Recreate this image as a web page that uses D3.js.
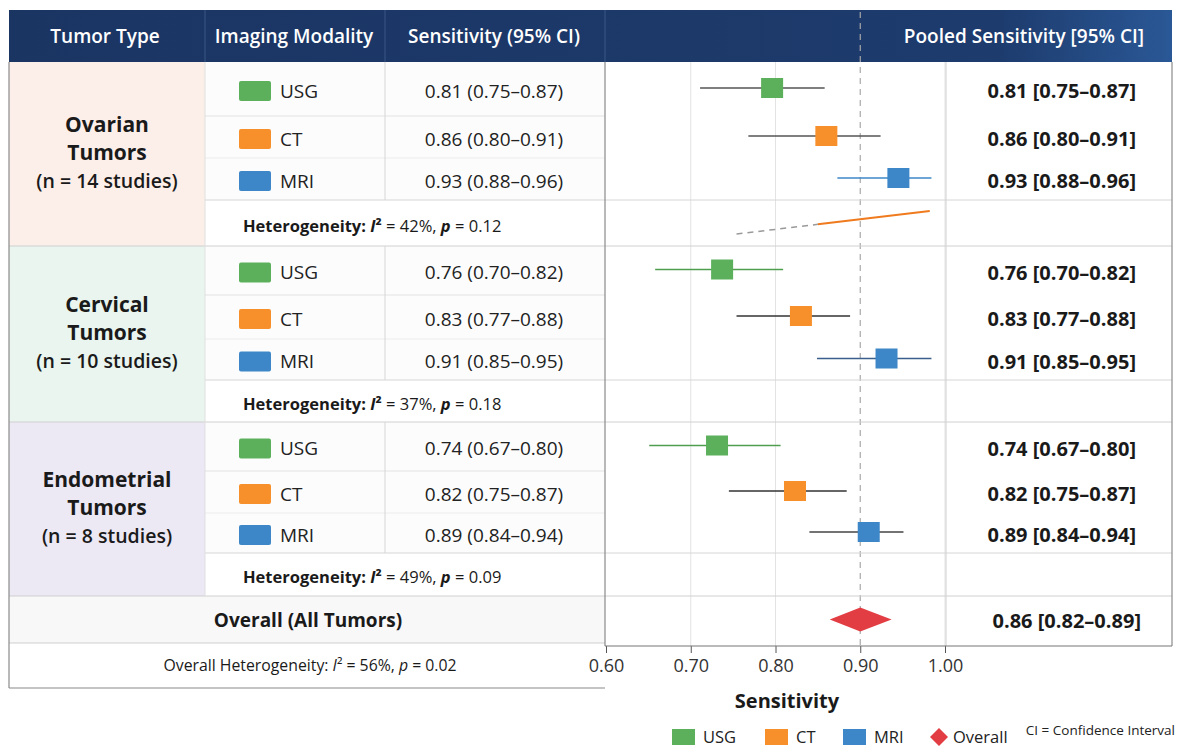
<!DOCTYPE html>
<html><head><meta charset="utf-8">
<script src="https://cdn.jsdelivr.net/npm/d3@7"></script>
<style>
body{margin:0;background:#fff;}
text{font-family:"Open Sans","Noto Sans",sans-serif;}
</style>
</head><body>
<svg id="chart" width="1178" height="747"></svg>
<script>
// ---------------- data ----------------
const tumorTypes = ["Ovarian", "Cervical", "Endometrial"];
const studyCounts = [14, 10, 8];
const modalities = ["USG", "CT", "MRI"];
// reported sensitivities (table text)
const sensEst = [[0.81, 0.86, 0.93], [0.76, 0.83, 0.91], [0.74, 0.82, 0.89]];
const sensLo  = [[0.75, 0.80, 0.88], [0.70, 0.77, 0.85], [0.67, 0.75, 0.84]];
const sensHi  = [[0.87, 0.91, 0.96], [0.82, 0.88, 0.95], [0.80, 0.87, 0.94]];
// positions of the plotted markers / whiskers as drawn in the figure
const markEst = [[0.796, 0.860, 0.945], [0.737, 0.830, 0.931], [0.731, 0.823, 0.910]];
const markLo  = [[0.711, 0.768, 0.873], [0.658, 0.754, 0.849], [0.651, 0.745, 0.840]];
const markHi  = [[0.858, 0.924, 0.984], [0.809, 0.888, 0.984], [0.806, 0.884, 0.951]];
const hetI2 = [42, 37, 49];
const hetP = [0.12, 0.18, 0.09];
const overallSens = [0.86, 0.82, 0.89];      // est, lo, hi (text)
const overallMark = [0.900, 0.864, 0.937];   // diamond as drawn
const overallI2 = 56;
const overallP = 0.02;
const axisTicks = [0.60, 0.70, 0.80, 0.90, 1.00];
const refValue = 0.90;
// stray trend stroke in the ovarian heterogeneity row
const trendX = [0.754, 0.850, 0.982];
const legendItems = ["USG", "CT", "MRI", "Overall"];

// ---------------- styles ----------------
const modColor = {USG: "#5cb05c", CT: "#f7902a", MRI: "#3d87c8"};
const whiskerColor = [["#555", "#555", "#3d87c8"], ["#4f9e4f", "#333", "#3a5f8c"], ["#4f9e4f", "#333", "#444"]];
const groupFill = ["#fcefea", "#e9f5ee", "#ece8f4"];
const groupEdges = [[62, 116, 158, 200, 246], [246, 295, 339, 380, 422], [422, 471, 513, 553, 596]];
const f2 = d3.format(".2f");

const svg = d3.select("#chart");
const x = d3.scaleLinear().domain([0.6, 1.0]).range([606, 945]);

const L = 9, R = 1172, HT = 10, HB = 62;
const colMod = 205, colSens = 385, colPlot = 605, colPool = 946;
const overallTop = 596, overallBot = 643, tableBot = 688, axisY = 646;

// header gradient
const defs = svg.append("defs");
const g1 = defs.append("linearGradient").attr("id", "hdr").attr("x1", "0").attr("x2", "1");
g1.append("stop").attr("offset", "0").attr("stop-color", "#1b3563");
g1.append("stop").attr("offset", "0.85").attr("stop-color", "#1d3b6d");
g1.append("stop").attr("offset", "1").attr("stop-color", "#2a5896");

// ---------------- backgrounds ----------------
tumorTypes.forEach((t, i) => {
  const e = groupEdges[i];
  svg.append("rect").attr("x", L).attr("y", e[0]).attr("width", colMod - L).attr("height", e[4] - e[0]).attr("fill", groupFill[i]);
  svg.append("rect").attr("x", colMod).attr("y", e[0]).attr("width", colPlot - colMod).attr("height", e[3] - e[0]).attr("fill", "#fcfcfc");
});
svg.append("rect").attr("x", L).attr("y", overallTop).attr("width", colPlot - L).attr("height", overallBot - overallTop).attr("fill", "#f8f8f8");

// header
svg.append("rect").attr("x", L).attr("y", HT).attr("width", R - L).attr("height", HB - HT).attr("fill", "url(#hdr)");
[colMod, colSens, colPlot].forEach(cx => svg.append("line").attr("x1", cx).attr("x2", cx).attr("y1", HT).attr("y2", HB).attr("stroke", "#3b5786").attr("stroke-width", 1));
const hdrText = [["Tumor Type", 105, "middle"], ["Imaging Modality", 294, "middle"], ["Sensitivity (95% CI)", 494, "middle"], ["Pooled Sensitivity [95% CI]", 1144, "end"]];
hdrText.forEach(h => svg.append("text").attr("x", h[1]).attr("y", 36).attr("dy", "0.35em").attr("text-anchor", h[2])
  .attr("fill", "#fff").attr("font-size", 19).attr("font-weight", 600).text(h[0]));

// ---------------- grid lines in plot ----------------
axisTicks.filter(v => v !== refValue && v > 0.6).forEach(v => {
  svg.append("line").attr("x1", x(v)).attr("x2", x(v)).attr("y1", HB).attr("y2", axisY).attr("stroke", "#e3e3e3").attr("stroke-width", 1);
});
svg.append("line").attr("x1", x(refValue)).attr("x2", x(refValue)).attr("y1", HT + 2).attr("y2", axisY)
  .attr("stroke", "#a8a8a8").attr("stroke-width", 1.2).attr("stroke-dasharray", "6,5");

// ---------------- row separators ----------------
const sep = (x1, x2, y, c) => svg.append("line").attr("x1", x1).attr("x2", x2).attr("y1", y).attr("y2", y).attr("stroke", c || "#d9d9d9").attr("stroke-width", 1);
tumorTypes.forEach((t, i) => {
  const e = groupEdges[i];
  sep(colMod, colPlot, e[1], "#e2e2e2");
  sep(colMod, colPlot, e[2], "#ececec");
  sep(colMod, R, e[3], "#d6d6d6");
  sep(L, R, e[4], "#d0d0d0");
  svg.append("line").attr("x1", colSens).attr("x2", colSens).attr("y1", e[0]).attr("y2", e[3]).attr("stroke", "#d6d6d6");
  svg.append("line").attr("x1", colMod).attr("x2", colMod).attr("y1", e[0]).attr("y2", e[4]).attr("stroke", "#e0e0e0");
});
sep(L, colPlot, overallBot, "#cfcfcf");
// borders
svg.append("line").attr("x1", L).attr("x2", L).attr("y1", HB).attr("y2", tableBot).attr("stroke", "#8a8a8a").attr("stroke-width", 1.2);
svg.append("line").attr("x1", L).attr("x2", colPlot).attr("y1", tableBot).attr("y2", tableBot).attr("stroke", "#8a8a8a").attr("stroke-width", 1.2);
svg.append("line").attr("x1", colPlot).attr("x2", colPlot).attr("y1", HB).attr("y2", axisY).attr("stroke", "#8a8a8a").attr("stroke-width", 1.2);
svg.append("line").attr("x1", R).attr("x2", R).attr("y1", HB).attr("y2", axisY).attr("stroke", "#8a8a8a").attr("stroke-width", 1.2);
svg.append("line").attr("x1", colPool).attr("x2", colPool).attr("y1", HB).attr("y2", axisY).attr("stroke", "#d0d0d0");

// ---------------- group labels ----------------
tumorTypes.forEach((t, i) => {
  const e = groupEdges[i];
  const cy = (e[0] + e[4]) / 2;
  const lbl = svg.append("g");
  lbl.append("text").attr("x", 107).attr("y", cy - 29).attr("dy", "0.35em").attr("text-anchor", "middle")
    .attr("font-size", 21).attr("font-weight", 700).attr("fill", "#1a1a1a").text(t);
  lbl.append("text").attr("x", 107).attr("y", cy - 1).attr("dy", "0.35em").attr("text-anchor", "middle")
    .attr("font-size", 21).attr("font-weight", 700).attr("fill", "#1a1a1a").text("Tumors");
  lbl.append("text").attr("x", 107).attr("y", cy + 27).attr("dy", "0.35em").attr("text-anchor", "middle")
    .attr("font-size", 19.5).attr("font-weight", 600).attr("fill", "#1a1a1a").text(`(n = ${studyCounts[i]} studies)`);
});

// ---------------- modality rows ----------------
tumorTypes.forEach((t, i) => {
  const e = groupEdges[i];
  modalities.forEach((m, j) => {
    const cy = (e[j] + e[j + 1]) / 2 + 2;
    svg.append("rect").attr("x", 239).attr("y", cy - 10).attr("width", 32).attr("height", 20).attr("rx", 2).attr("fill", modColor[m]);
    svg.append("text").attr("x", 280).attr("y", cy).attr("dy", "0.35em").attr("font-size", 19).attr("fill", "#222").text(m);
    svg.append("text").attr("x", 494).attr("y", cy).attr("dy", "0.35em").attr("text-anchor", "middle").attr("font-size", 19).attr("fill", "#222")
      .text(`${f2(sensEst[i][j])} (${f2(sensLo[i][j])}–${f2(sensHi[i][j])})`);
    // forest marks
    const my = cy - 3;
    svg.append("line").attr("x1", x(markLo[i][j])).attr("x2", x(markHi[i][j])).attr("y1", my).attr("y2", my)
      .attr("stroke", whiskerColor[i][j]).attr("stroke-width", 1.6);
    svg.append("rect").attr("x", x(markEst[i][j]) - 11).attr("y", my - 10).attr("width", 22).attr("height", 20).attr("fill", modColor[m]);
    svg.append("text").attr("x", 1136).attr("y", cy).attr("dy", "0.35em").attr("text-anchor", "end").attr("font-size", 20).attr("font-weight", 700).attr("fill", "#1a1a1a")
      .text(`${f2(sensEst[i][j])} [${f2(sensLo[i][j])}–${f2(sensHi[i][j])}]`);
  });
  // heterogeneity row
  const hy = (e[3] + e[4]) / 2 + 3;
  const ht = svg.append("text").attr("x", 243).attr("y", hy).attr("dy", "0.35em").attr("font-size", 16.5).attr("fill", "#1a1a1a");
  ht.append("tspan").attr("font-weight", 700).text("Heterogeneity: ");
  ht.append("tspan").attr("font-weight", 700).attr("font-style", "italic").text("I");
  ht.append("tspan").attr("font-weight", 700).text("²");
  ht.append("tspan").text(` = ${hetI2[i]}%, `);
  ht.append("tspan").attr("font-weight", 700).attr("font-style", "italic").text("p");
  ht.append("tspan").text(` = ${f2(hetP[i])}`);
  if (i === 0) {
    const yT = d3.scaleLinear().domain([trendX[0], trendX[2]]).range([hy + 8, hy - 15]);
    svg.append("line").attr("x1", x(trendX[0])).attr("x2", x(trendX[1])).attr("y1", yT(trendX[0])).attr("y2", yT(trendX[1]))
      .attr("stroke", "#9a9a9a").attr("stroke-width", 1.5).attr("stroke-dasharray", "6,5");
    svg.append("line").attr("x1", x(trendX[1])).attr("x2", x(trendX[2])).attr("y1", yT(trendX[1])).attr("y2", yT(trendX[2]))
      .attr("stroke", "#f07a1e").attr("stroke-width", 2);
  }
});

// ---------------- overall ----------------
const oy = (overallTop + overallBot) / 2 + 1;
svg.append("text").attr("x", 308).attr("y", oy).attr("dy", "0.35em").attr("text-anchor", "middle").attr("font-size", 19).attr("font-weight", 700).attr("fill", "#1a1a1a").text("Overall (All Tumors)");
svg.append("path").attr("d", `M${x(overallMark[1])},${oy - 1} L${x(overallMark[0])},${oy - 13} L${x(overallMark[2])},${oy - 1} L${x(overallMark[0])},${oy + 11} Z`).attr("fill", "#e23d43");
svg.append("text").attr("x", 1141).attr("y", oy).attr("dy", "0.35em").attr("text-anchor", "end").attr("font-size", 20).attr("font-weight", 700).attr("fill", "#1a1a1a")
  .text(`${f2(overallSens[0])} [${f2(overallSens[1])}–${f2(overallSens[2])}]`);
const oh = svg.append("text").attr("x", 310).attr("y", (overallBot + tableBot) / 2).attr("dy", "0.35em").attr("text-anchor", "middle").attr("font-size", 15.8).attr("fill", "#1a1a1a");
oh.append("tspan").text("Overall Heterogeneity: ");
oh.append("tspan").attr("font-style", "italic").text("I");
oh.append("tspan").text(`² = ${overallI2}%, `);
oh.append("tspan").attr("font-style", "italic").text("p");
oh.append("tspan").text(` = ${f2(overallP)}`);

// ---------------- axis ----------------
const axis = d3.axisBottom(x).tickValues(axisTicks).tickFormat(d3.format(".2f")).tickSize(7).tickSizeOuter(0);
const ag = svg.append("g").attr("transform", `translate(0,${axisY})`).call(axis);
ag.select(".domain").remove();
ag.selectAll(".tick line").attr("stroke", "#555");
ag.selectAll(".tick text").attr("font-size", 18).attr("fill", "#333").attr("dy", "0.9em").style("font-family", '"Open Sans",sans-serif');
svg.append("line").attr("x1", colPlot).attr("x2", R).attr("y1", axisY).attr("y2", axisY).attr("stroke", "#777").attr("stroke-width", 1.2);
svg.append("text").attr("x", 787).attr("y", 701).attr("dy", "0.35em").attr("text-anchor", "middle").attr("font-size", 20).attr("font-weight", 700).attr("fill", "#1a1a1a").text("Sensitivity");

// ---------------- legend ----------------
const legX = [672, 765, 843, 928];
legendItems.forEach((k, i) => {
  const g = svg.append("g").attr("transform", `translate(${legX[i]},737)`);
  if (k === "Overall") {
    g.append("path").attr("d", "M2,0 L11,-9 L20,0 L11,9 Z").attr("fill", "#e23d43");
    g.append("text").attr("x", 25).attr("dy", "0.35em").attr("font-size", 16.5).attr("fill", "#222").text(k);
  } else {
    g.append("rect").attr("x", 0).attr("y", -8).attr("width", 23).attr("height", 16).attr("fill", modColor[k]);
    g.append("text").attr("x", 31).attr("dy", "0.35em").attr("font-size", 16.5).attr("fill", "#222").text(k);
  }
});
svg.append("text").attr("x", 1175).attr("y", 730).attr("dy", "0.35em").attr("text-anchor", "end").attr("font-size", 13.5).attr("fill", "#222").text("CI = Confidence Interval");
</script>
</body></html>
